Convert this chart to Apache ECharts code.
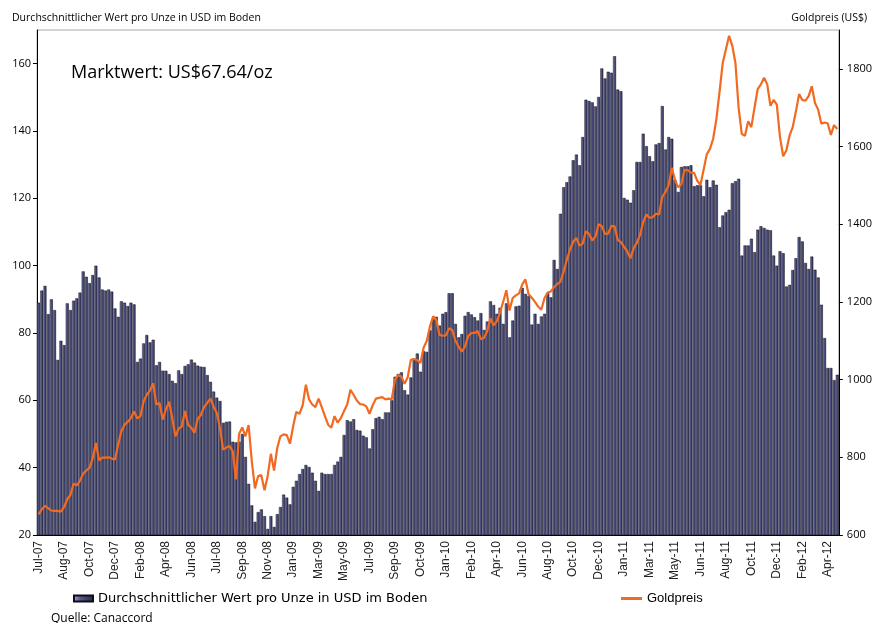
<!DOCTYPE html>
<html>
<head>
<meta charset="utf-8">
<script src="https://cdn.jsdelivr.net/npm/echarts@6/dist/echarts.min.js"></script>
<style>
  html, body { margin: 0; padding: 0; background: #fff; }
  #chart { width: 875px; height: 623px; }
</style>
</head>
<body>
<div id="chart"></div>
<script>
// Tick labels (one every 8 weekly bars)
const tickLabels = ['Jul-07','Aug-07','Oct-07','Dec-07','Feb-08','Apr-08','Jun-08','Jul-08','Sep-08','Nov-08',
  'Jan-09','Mar-09','May-09','Jul-09','Sep-09','Oct-09','Jan-10','Feb-10','Apr-10','Jun-10',
  'Aug-10','Oct-10','Dec-10','Jan-11','Mar-11','May-11','Jun-11','Aug-11','Oct-11','Dec-11',
  'Feb-12','Apr-12'];

// Average value per ounce in the ground (USD), weekly
const valuePerOunce = [
  89, 92.6, 94, 85.6, 90, 86.8, 72, 77.7,
  76.4, 88.8, 86.8, 89.6, 90.3, 92, 98.3, 96.7,
  94.8, 97.2, 100, 96.5, 92.9, 92.6, 92.9, 92.3,
  87.3, 84.8, 89.4, 89, 88, 89, 88.5, 71.4,
  72.4, 76.9, 79.4, 77.2, 78, 70.4, 71.4, 68.8,
  68.8, 67.8, 65.8, 65.1, 68.9, 67.8, 70.2, 70.7,
  72.1, 71.2, 70.3, 70, 69.9, 67.5, 65.5, 62.6,
  60.8, 59.8, 53.3, 53.6, 53.7, 47.7, 47.5, 47.7,
  50, 43.2, 35.2, 28.8, 23.9, 26.8, 27.6, 25.6,
  21.8, 25.6, 22.4, 26.2, 28.3, 32, 31.1, 29.1,
  34.3, 36.1, 38.1, 39.6, 40.8, 40.2, 38.5, 36.1,
  33.1, 38.5, 38.1, 38.1, 38.1, 40.8, 41.8, 43.2,
  49.7, 54.1, 53.7, 54.4, 51.2, 51, 49.5, 49,
  45.7, 51.4, 54.7, 55.1, 54.4, 56.4, 56.4, 60,
  67, 67.8, 68.3, 63, 61.7, 66.8, 72.2, 73.9,
  68.5, 74.6, 74.4, 80.8, 84.1, 84.8, 82.2, 85.7,
  86.2, 91.8, 91.8, 82.7, 78.7, 79.7, 85.1, 86.2,
  85.5, 84.7, 83.7, 85.9, 80.9, 83.4, 89.4, 88.3,
  85.7, 87.5, 82.7, 88.8, 78.7, 83.7, 87.9, 88.1,
  93.4, 91.6, 91, 82.5, 85.7, 82.7, 84.9, 85.7,
  91.9, 90.6, 101.7, 99, 115.4, 123.3, 124.8, 126.5,
  131.3, 133, 129.8, 138.2, 149.3, 148.9, 148.5, 147.3,
  150.1, 158.6, 155.6, 157.6, 157.3, 162.2, 152.3, 151.8,
  120.1, 119.6, 118.7, 122.4, 130.8, 130.8, 139.2, 135.5,
  132.5, 131, 136, 136.4, 147.4, 134.5, 138.2, 137.7,
  125.5, 121.9, 129.3, 129.5, 129.5, 129.8, 123.6, 123.9,
  123.9, 120.6, 125.5, 123.3, 125.3, 124, 111.4, 114.9,
  115.9, 116.6, 124.5, 125.1, 125.8, 103, 106, 106,
  108, 104, 110.7, 111.7, 111.2, 110.7, 110.5, 103,
  100, 104.3, 103.7, 93.8, 94.3, 98.7, 102.2, 108.5,
  107.2, 100.8, 99, 102.7, 98.8, 96.5, 88.4, 78.5,
  69.6, 69.6, 66, 67.6
];

// Gold price (USD/oz), weekly
const goldPrice = [
  653, 666, 675, 669, 663, 662, 662, 660,
  672, 692, 703, 732, 728, 740, 758, 766,
  773, 797, 837, 792, 799, 799, 800, 797,
  794, 833, 867, 884, 891, 901, 918, 900,
  906, 944, 961, 972, 991, 936, 940, 897,
  923, 943, 901, 854, 874, 879, 919, 884,
  876, 863, 899, 909, 929, 940, 951, 931,
  914, 876, 820, 825, 829, 816, 743, 860,
  877, 854, 883, 790, 720, 752, 754, 715,
  752, 809, 766, 824, 854, 859, 857, 835,
  880, 917, 912, 934, 987, 949, 936, 929,
  951, 929, 906, 884, 876, 906, 889, 901,
  919, 936, 974, 961, 946, 937, 936, 931,
  912, 934, 951, 953, 955, 949, 951, 950,
  1000, 1011, 1008, 989, 1006, 1051, 1053, 1050,
  1043, 1082, 1100, 1137, 1163, 1154, 1115, 1113,
  1114, 1132, 1128, 1100, 1085, 1072, 1085, 1112,
  1120, 1120, 1125, 1104, 1108, 1125, 1158, 1140,
  1150, 1172, 1200, 1230, 1178, 1210, 1217, 1222,
  1245, 1258, 1220, 1211, 1200, 1188, 1180, 1210,
  1224, 1227, 1238, 1246, 1252, 1278, 1308, 1335,
  1355, 1365, 1345, 1350, 1382, 1375, 1358, 1368,
  1400, 1395, 1375, 1376, 1395, 1395, 1360, 1354,
  1342, 1330, 1312, 1338, 1352, 1372, 1405, 1425,
  1417, 1418, 1427, 1425, 1470, 1483, 1500, 1545,
  1515, 1495, 1503, 1540, 1539, 1533, 1532, 1512,
  1501, 1540, 1580, 1594, 1620, 1670, 1740, 1815,
  1850, 1885, 1860, 1815, 1700, 1632, 1628, 1665,
  1650, 1700, 1748, 1760, 1777, 1760, 1705, 1720,
  1708, 1625, 1575, 1590, 1628, 1650, 1690, 1735,
  1720, 1718, 1730, 1755, 1712, 1695, 1659, 1662,
  1660, 1630, 1655, 1645
];

const barName = 'Durchschnittlicher Wert pro Unze in USD im Boden';
const lineName = 'Goldpreis';
const weeks = valuePerOunce.map((_, i) => String(i));

const chart = echarts.init(document.getElementById('chart'), null, { renderer: 'canvas' });

const option = {
  animation: false,
  backgroundColor: '#ffffff',
  title: [
    { text: 'Durchschnittlicher Wert pro Unze in USD im Boden', left: 7, top: 8,
      textStyle: { fontFamily: 'Open Sans', fontSize: 10.5, fontWeight: 'normal', color: '#000' } },
    { text: 'Goldpreis (US$)', right: 3, top: 8,
      textStyle: { fontFamily: 'Open Sans', fontSize: 10.5, fontWeight: 'normal', color: '#000' } },
    { text: 'Marktwert: US$67.64/oz', left: 66, top: 59,
      textStyle: { fontFamily: 'Open Sans', fontSize: 18, fontWeight: 'normal', color: '#000' } },
    { text: 'Quelle: Canaccord', left: 46, top: 608,
      textStyle: { fontFamily: 'Open Sans', fontSize: 12, fontWeight: 'normal', color: '#000' } }
  ],
  legend: [
    { data: [{ name: barName, icon: 'rect' }], left: 68, top: 587, itemWidth: 19, itemHeight: 6, itemGap: 4,
      textStyle: { fontFamily: 'DejaVu Sans', fontSize: 13, color: '#000' } },
    { data: [{ name: lineName, icon: 'rect' }], left: 616, top: 587, itemWidth: 21, itemHeight: 3,
      itemStyle: { color: '#f26a21', borderWidth: 0 },
      textStyle: { fontFamily: 'Liberation Sans', fontSize: 13, color: '#000' } }
  ],
  grid: {
    left: 37, right: 36, top: 30, bottom: 88,
    show: true, borderColor: '#a8a8a8', borderWidth: 1, backgroundColor: 'transparent'
  },
  xAxis: {
    type: 'category',
    data: weeks,
    boundaryGap: true,
    axisLine: { lineStyle: { color: '#000', width: 1 } },
    axisTick: { interval: 7, length: 4, lineStyle: { color: '#000' } },
    axisLabel: {
      interval: 7, rotate: 90, margin: 6,
      fontFamily: 'Liberation Sans', fontSize: 12, color: '#222',
      formatter: (v, idx) => (idx % 8 === 0 ? (tickLabels[idx / 8] || '') : '')
    },
    splitLine: { show: false }
  },
  yAxis: [
    {
      type: 'value', min: 20, max: 170, interval: 20, position: 'left',
      axisLine: { show: true, lineStyle: { color: '#000', width: 1 } },
      axisTick: { show: true, length: 4, lineStyle: { color: '#000' } },
      axisLabel: { showMaxLabel: false, margin: 6, fontFamily: 'Open Sans', fontSize: 11, color: '#000' },
      splitLine: { show: false }
    },
    {
      type: 'value', min: 600, max: 1900, interval: 200, position: 'right',
      axisLine: { show: true, lineStyle: { color: '#000', width: 1 } },
      axisTick: { show: true, length: 4, lineStyle: { color: '#000' } },
      axisLabel: { showMaxLabel: false, margin: 8, fontFamily: 'Open Sans', fontSize: 11, color: '#000',
        formatter: (v) => String(v) },
      splitLine: { show: false }
    }
  ],
  series: [
    {
      name: barName,
      type: 'bar',
      yAxisIndex: 0,
      data: valuePerOunce,
      barCategoryGap: '6%',
      itemStyle: {
        color: new echarts.graphic.LinearGradient(0, 0, 1, 0, [
          { offset: 0, color: '#a6a8de' },
          { offset: 0.35, color: '#55578a' },
          { offset: 1, color: '#2a2b42' }
        ]),
        borderColor: '#0d0d18',
        borderWidth: 0.5
      },
      z: 2
    },
    {
      name: lineName,
      type: 'line',
      yAxisIndex: 1,
      data: goldPrice,
      symbol: 'none',
      smooth: false,
      lineStyle: { color: '#f26a21', width: 2.2 },
      itemStyle: { color: '#f26a21' },
      z: 5
    }
  ]
};

chart.setOption(option);
</script>
</body>
</html>
